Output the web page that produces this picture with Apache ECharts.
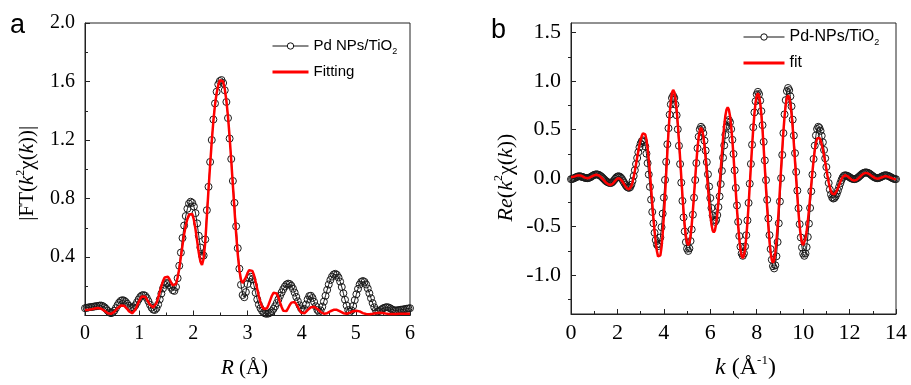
<!DOCTYPE html>
<html><head><meta charset="utf-8">
<script src="https://cdn.jsdelivr.net/npm/echarts@6/dist/echarts.min.js"></script>
<style>html,body{margin:0;padding:0;background:#fff}#c{width:911px;height:385px}</style>
</head><body><div id="c"></div>
<script>
// ---------- panel a : |FT(k^2 chi(k))| vs R ----------
const rGrid = [
0,0.03,0.06,0.09,0.12,0.15,0.18,0.21,0.24,0.27,
0.3,0.33,0.36,0.39,0.42,0.45,0.48,0.51,0.54,0.57,
0.6,0.63,0.66,0.69,0.72,0.75,0.78,0.81,0.84,0.87,
0.9,0.93,0.96,0.99,1.02,1.05,1.08,1.11,1.14,1.17,
1.2,1.23,1.26,1.29,1.32,1.35,1.38,1.41,1.44,1.47,
1.5,1.53,1.56,1.59,1.62,1.65,1.68,1.71,1.74,1.77,
1.8,1.83,1.86,1.89,1.92,1.95,1.98,2.01,2.04,2.07,
2.1,2.13,2.16,2.19,2.22,2.25,2.28,2.31,2.34,2.37,
2.4,2.43,2.46,2.49,2.52,2.55,2.58,2.61,2.64,2.67,
2.7,2.73,2.76,2.79,2.82,2.85,2.88,2.91,2.94,2.97,
3,3.03,3.06,3.09,3.12,3.15,3.18,3.21,3.24,3.27,
3.3,3.33,3.36,3.39,3.42,3.45,3.48,3.51,3.54,3.57,
3.6,3.63,3.66,3.69,3.72,3.75,3.78,3.81,3.84,3.87,
3.9,3.93,3.96,3.99,4.02,4.05,4.08,4.11,4.14,4.17,
4.2,4.23,4.26,4.29,4.32,4.35,4.38,4.41,4.44,4.47,
4.5,4.53,4.56,4.59,4.62,4.65,4.68,4.71,4.74,4.77,
4.8,4.83,4.86,4.89,4.92,4.95,4.98,5.01,5.04,5.07,
5.1,5.13,5.16,5.19,5.22,5.25,5.28,5.31,5.34,5.37,
5.4,5.43,5.46,5.49,5.52,5.55,5.58,5.61,5.64,5.67,
5.7,5.73,5.76,5.79,5.82,5.85,5.88,5.91,5.94,5.97,
6];
const ftMeasured = [
.050,.052,.055,.057,.058,.060,.062,.064,.066,.068,
.068,.064,.056,.045,.032,.021,.016,.020,.032,.050,
.070,.088,.100,.105,.102,.093,.080,.066,.055,.050,
.055,.070,.090,.110,.127,.137,.140,.135,.120,.098,
.074,.053,.040,.038,.050,.075,.110,.150,.185,.210,
.222,.220,.208,.190,.173,.168,.195,.255,.340,.430,
.530,.615,.680,.730,.765,.778,.770,.745,.700,.630,
.545,.465,.410,.410,.520,.720,.880,1.050,1.200,1.340,
1.450,1.530,1.580,1.603,1.610,1.590,1.540,1.460,1.350,1.210,
1.070,.920,.770,.610,.460,.320,.210,.140,.125,.160,
.215,.255,.265,.248,.205,.155,.110,.075,.050,.032,
.020,.013,.012,.014,.020,.030,.045,.063,.085,.110,
.135,.158,.180,.198,.212,.218,.215,.203,.183,.157,
.127,.097,.070,.048,.037,.045,.075,.110,.133,.135,
.120,.093,.063,.038,.026,.035,.060,.095,.135,.175,
.212,.243,.266,.280,.285,.278,.260,.232,.195,.152,
.108,.068,.037,.025,.035,.065,.105,.145,.182,.212,
.230,.236,.230,.212,.185,.152,.118,.085,.056,.036,
.027,.030,.038,.046,.052,.056,.057,.054,.048,.041,
.036,.034,.035,.037,.039,.040,.042,.044,.046,.048,
.050];
const ftFitting = [
.037,.038,.039,.040,.042,.045,.048,.050,.051,.050,
.046,.040,.032,.023,.015,.011,.011,.016,.025,.037,
.050,.061,.068,.070,.067,.057,.044,.030,.019,.015,
.022,.040,.065,.092,.115,.130,.134,.128,.112,.092,
.073,.060,.055,.062,.085,.120,.160,.200,.235,.260,
.270,.265,.248,.225,.207,.200,.215,.260,.320,.400,
.480,.555,.615,.660,.690,.700,.695,.655,.590,.510,
.430,.370,.345,.390,.500,.680,.860,1.030,1.190,1.330,
1.440,1.520,1.575,1.610,1.620,1.600,1.550,1.470,1.360,1.220,
1.060,.890,.720,.560,.420,.310,.245,.222,.232,.260,
.290,.310,.315,.305,.275,.230,.180,.130,.090,.060,
.045,.040,.050,.075,.105,.135,.155,.160,.150,.125,
.090,.058,.032,.020,.030,.050,.072,.088,.095,.092,
.078,.058,.037,.020,.012,.015,.025,.037,.048,.056,
.060,.060,.055,.045,.034,.024,.016,.012,.012,.016,
.022,.029,.035,.039,.040,.039,.034,.028,.021,.016,
.013,.012,.014,.019,.024,.029,.032,.033,.032,.028,
.022,.016,.012,.010,.009,.009,.010,.012,.014,.016,
.018,.018,.018,.017,.015,.013,.012,.011,.011,.011,
.011,.011,.012,.012,.012,.012,.012,.012,.012,.012,
.012];

// ---------- panel b : Re(k^2 chi(k)) vs k ----------
const kGrid = [
0,0.05,0.1,0.15,0.2,0.25,0.3,0.35,0.4,0.45,
0.5,0.55,0.6,0.65,0.7,0.75,0.8,0.85,0.9,0.95,
1,1.05,1.1,1.15,1.2,1.25,1.3,1.35,1.4,1.45,
1.5,1.55,1.6,1.65,1.7,1.75,1.8,1.85,1.9,1.95,
2,2.05,2.1,2.15,2.2,2.25,2.3,2.35,2.4,2.45,
2.5,2.55,2.6,2.65,2.7,2.75,2.8,2.85,2.9,2.95,
3,3.05,3.1,3.15,3.2,3.25,3.3,3.35,3.4,3.45,
3.5,3.55,3.6,3.65,3.7,3.75,3.8,3.85,3.9,3.95,
4,4.05,4.1,4.15,4.2,4.25,4.3,4.35,4.4,4.45,
4.5,4.55,4.6,4.65,4.7,4.75,4.8,4.85,4.9,4.95,
5,5.05,5.1,5.15,5.2,5.25,5.3,5.35,5.4,5.45,
5.5,5.55,5.6,5.65,5.7,5.75,5.8,5.85,5.9,5.95,
6,6.05,6.1,6.15,6.2,6.25,6.3,6.35,6.4,6.45,
6.5,6.55,6.6,6.65,6.7,6.75,6.8,6.85,6.9,6.95,
7,7.05,7.1,7.15,7.2,7.25,7.3,7.35,7.4,7.45,
7.5,7.55,7.6,7.65,7.7,7.75,7.8,7.85,7.9,7.95,
8,8.05,8.1,8.15,8.2,8.25,8.3,8.35,8.4,8.45,
8.5,8.55,8.6,8.65,8.7,8.75,8.8,8.85,8.9,8.95,
9,9.05,9.1,9.15,9.2,9.25,9.3,9.35,9.4,9.45,
9.5,9.55,9.6,9.65,9.7,9.75,9.8,9.85,9.9,9.95,
10,10.05,10.1,10.15,10.2,10.25,10.3,10.35,10.4,10.45,
10.5,10.55,10.6,10.65,10.7,10.75,10.8,10.85,10.9,10.95,
11,11.05,11.1,11.15,11.2,11.25,11.3,11.35,11.4,11.45,
11.5,11.55,11.6,11.65,11.7,11.75,11.8,11.85,11.9,11.95,
12,12.05,12.1,12.15,12.2,12.25,12.3,12.35,12.4,12.45,
12.5,12.55,12.6,12.65,12.7,12.75,12.8,12.85,12.9,12.95,
13,13.05,13.1,13.15,13.2,13.25,13.3,13.35,13.4,13.45,
13.5,13.55,13.6,13.65,13.7,13.75,13.8,13.85,13.9,13.95,
14];
const chiMeasured = [
-.01,-.008,-.004,.002,.008,.014,.018,.02,.019,.016,
.012,.008,.004,.001,0,.002,.006,.012,.02,.028,
.034,.038,.04,.038,.034,.027,.018,.007,-.005,-.017,
-.028,-.037,-.044,-.048,-.05,-.047,-.037,-.023,-.007,.007,
.017,.02,.016,.006,-.01,-.03,-.05,-.07,-.086,-.096,
-.10,-.092,-.067,-.029,.023,.082,.145,.208,.268,.319,
.357,.382,.39,.374,.328,.253,.155,.038,-.089,-.221,
-.348,-.465,-.563,-.638,-.684,-.70,-.677,-.611,-.505,-.365,
-.20,-.018,.168,.35,.515,.655,.761,.827,.85,.827,
.759,.649,.504,.334,.146,-.046,-.234,-.404,-.549,-.659,
-.727,-.75,-.724,-.648,-.529,-.376,-.201,-.019,.156,.309,
.428,.504,.53,.513,.464,.387,.285,.166,.04,-.086,
-.205,-.307,-.384,-.433,-.45,-.432,-.38,-.297,-.188,-.06,
.075,.211,.338,.447,.53,.582,.60,.576,.506,.396,
.25,.081,-.10,-.281,-.45,-.596,-.706,-.776,-.80,-.775,
-.703,-.588,-.435,-.255,-.057,.147,.345,.525,.678,.793,
.865,.89,.867,.80,.691,.547,.375,.183,-.02,-.223,
-.415,-.587,-.731,-.84,-.907,-.93,-.898,-.805,-.658,-.465,
-.24,0,.24,.465,.658,.805,.898,.93,.908,.844,
.741,.604,.44,.258,.065,-.128,-.31,-.474,-.611,-.714,
-.778,-.80,-.777,-.711,-.606,-.468,-.307,-.135,.037,.198,
.336,.441,.507,.53,.519,.488,.437,.37,.291,.205,
.115,.029,-.05,-.117,-.168,-.199,-.21,-.204,-.187,-.16,
-.127,-.09,-.053,-.02,.007,.024,.03,.028,.024,.018,
.01,.002,-.004,-.008,-.01,-.008,-.003,.004,.014,.025,
.036,.046,.053,.058,.06,.058,.054,.048,.039,.03,
.021,.012,.006,.001,0,.002,.006,.012,.018,.024,
.029,.03,.029,.025,.02,.014,.007,0,-.005,-.009,
-.01];
const chiFit = [
.01,.011,.014,.018,.022,.026,.029,.03,.029,.024,
.018,.012,.006,.001,0,.001,.005,.011,.018,.024,
.03,.034,.035,.033,.028,.02,.009,-.004,-.018,-.031,
-.044,-.055,-.063,-.068,-.07,-.067,-.057,-.043,-.027,-.013,
-.003,0,-.003,-.013,-.029,-.048,-.067,-.086,-.102,-.112,
-.115,-.107,-.082,-.042,.011,.074,.142,.213,.281,.344,
.397,.437,.462,.47,.451,.396,.307,.19,.052,-.10,
-.256,-.407,-.545,-.662,-.751,-.806,-.825,-.796,-.709,-.572,
-.391,-.181,.043,.266,.476,.657,.794,.881,.91,.887,
.819,.709,.564,.394,.206,.014,-.174,-.344,-.489,-.599,
-.667,-.69,-.666,-.594,-.481,-.336,-.171,.001,.166,.311,
.424,.496,.52,.498,.434,.334,.204,.057,-.097,-.244,
-.374,-.474,-.538,-.56,-.538,-.474,-.372,-.238,-.081,.085,
.251,.408,.542,.644,.708,.73,.707,.641,.535,.394,
.228,.046,-.141,-.323,-.489,-.63,-.736,-.802,-.825,-.80,
-.728,-.611,-.458,-.276,-.077,.127,.326,.508,.661,.778,
.85,.875,.85,.775,.656,.498,.312,.108,-.103,-.307,
-.493,-.651,-.77,-.845,-.87,-.845,-.771,-.653,-.497,-.313,
-.111,.096,.298,.482,.638,.756,.83,.855,.832,.767,
.661,.521,.356,.176,-.011,-.191,-.356,-.496,-.602,-.668,
-.69,-.674,-.626,-.55,-.449,-.33,-.20,-.065,.065,.184,
.285,.361,.409,.425,.416,.391,.35,.297,.233,.163,
.092,.022,-.042,-.095,-.136,-.161,-.17,-.165,-.151,-.129,
-.101,-.07,-.039,-.011,.011,.025,.03,.028,.022,.013,
.003,-.008,-.017,-.023,-.025,-.023,-.017,-.009,.003,.015,
.027,.039,.047,.053,.055,.054,.049,.043,.034,.025,
.016,.007,.001,-.004,-.005,-.004,0,.005,.010,.015,
.019,.02,.019,.016,.012,.008,.002,-.003,-.007,-.009,
-.01];

// tick positions for panel b y axis
const chiTickValues = [-1.0,-0.5,0,0.5,1.0,1.5];
const chiMinorTickValues = [-1.25,-0.75,-0.25,0.25,0.75,1.25];

const nameA1 = 'Pd NPs/TiO₂', nameA2 = 'Fitting';
const nameB1 = 'Pd-NPs/TiO₂', nameB2 = 'fit';

const zip = (xs, ys) => xs.map((x, i) => [x, ys[i]]);

const AX = '#222';
const SERIF = "'Liberation Serif','Times New Roman',serif";
const SANS = "'Liberation Sans',Arial,sans-serif";

function richName(size, padding) {
  return {
    fontFamily: SERIF, fontSize: size, color: '#000', padding: padding || 0,
    rich: {
      n: {fontFamily: SERIF, fontSize: size, color: '#000', lineHeight: size + 4},
      i: {fontFamily: SERIF, fontSize: size, fontStyle: 'italic', color: '#000', lineHeight: size + 4},
      sup: {fontFamily: SERIF, fontSize: Math.round(size * 0.55), color: '#000', verticalAlign: 'top', lineHeight: Math.round(size * 0.6)}
    }
  };
}
function valueAxis(extra) {
  return Object.assign({
    type: 'value',
    axisLine: {show: true, onZero: false, lineStyle: {color: AX, width: 1}},
    axisTick: {show: true, inside: true, length: 5, lineStyle: {color: AX, width: 1}},
    minorTick: {show: true, splitNumber: 2, length: 3, lineStyle: {color: AX, width: 1}},
    splitLine: {show: false},
    minorSplitLine: {show: false}
  }, extra);
}
const legendText = (size) => ({
  fontFamily: SANS, fontSize: size, color: '#000', lineHeight: 20,
  rich: {sub: {fontFamily: SANS, fontSize: 9, color: '#000', lineHeight: 9, verticalAlign: 'bottom'}}
});
const legendFmt = n => n.replace('₂', '{sub|2}');
const legendMeasured = name => ({name, itemStyle: {color: '#fff', borderColor: '#111', borderWidth: 1}, lineStyle: {color: '#111', width: 1}});
const legendFit = name => ({name, itemStyle: {opacity: 0}, lineStyle: {color: '#ff0000', width: 3}});

const measuredStyle = {
  type: 'line', symbol: 'circle', symbolSize: 7, showSymbol: true,
  itemStyle: {color: 'rgba(0,0,0,0)', borderColor: '#1a1a1a', borderWidth: 1},
  lineStyle: {color: '#1a1a1a', width: 1},
  emphasis: {disabled: true}, z: 2
};
const fitStyle = {
  type: 'line', symbol: 'none', showSymbol: false,
  itemStyle: {color: '#ff0000'},
  lineStyle: {color: '#ff0000', width: 2.5},
  emphasis: {disabled: true}, z: 3
};

const chart = echarts.init(document.getElementById('c'), null, {renderer: 'canvas'});
chart.setOption({
  animation: false,
  backgroundColor: '#fff',
  title: [
    {text: 'a', left: 10, top: 12, padding: 0, textStyle: {fontFamily: SANS, fontSize: 27, fontWeight: 'normal', color: '#000'}},
    {text: 'b', left: 491, top: 17, padding: 0, textStyle: {fontFamily: SANS, fontSize: 27, fontWeight: 'normal', color: '#000'}}
  ],
  grid: [
    {left: 85, top: 23, width: 325, height: 292.5, show: true, borderColor: AX, borderWidth: 1, backgroundColor: 'transparent', containLabel: false},
    {left: 571, top: 23, width: 325, height: 292, show: true, borderColor: AX, borderWidth: 1, backgroundColor: 'transparent', containLabel: false}
  ],
  legend: [
    {left: 271, top: 36, padding: 0, orient: 'vertical', itemWidth: 36, itemHeight: 8, itemGap: 6, selectedMode: false,
     data: [legendMeasured(nameA1), legendFit(nameA2)],
     textStyle: legendText(15), formatter: legendFmt},
    {left: 742, top: 27, padding: 0, orient: 'vertical', itemWidth: 41, itemHeight: 8, itemGap: 6, selectedMode: false,
     data: [legendMeasured(nameB1), legendFit(nameB2)],
     textStyle: legendText(16), formatter: legendFmt}
  ],
  xAxis: [
    valueAxis({gridIndex: 0, min: 0, max: 6, interval: 1,
      axisLabel: {fontFamily: SERIF, fontSize: 20, color: '#000', margin: 8},
      name: '{i|R}{n| (Å)}', nameLocation: 'middle', nameGap: 40, nameTextStyle: richName(21, [0, 6, 0, 0])}),
    valueAxis({gridIndex: 1, min: 0, max: 14, interval: 2,
      axisLabel: {fontFamily: SERIF, fontSize: 22, color: '#000', margin: 8},
      name: '{i|k}{n| (Å}{sup|-1}{n|)}', nameLocation: 'middle', nameGap: 40, nameTextStyle: richName(24, [0, 0, 0, 24])})
  ],
  yAxis: [
    valueAxis({gridIndex: 0, min: 0, max: 2, interval: 0.4,
      axisLabel: {fontFamily: SERIF, fontSize: 20, color: '#000', margin: 10, showMinLabel: false,
        formatter: v => v.toFixed(1)},
      name: '{n||FT(}{i|k}{sup|2}{n|χ(}{i|k}{n|))|}', nameLocation: 'middle', nameGap: 45, nameRotate: 90,
      nameTextStyle: richName(21, [0, 8, 0, 0])}),
    valueAxis({gridIndex: 1, min: -1.4, max: 1.6,
      axisTick: {show: true, inside: true, length: 5, customValues: chiTickValues, lineStyle: {color: AX, width: 1}},
      minorTick: {show: false},
      axisLabel: {fontFamily: SERIF, fontSize: 22, color: '#000', margin: 10, customValues: chiTickValues,
        formatter: v => v.toFixed(1)},
      name: '{i|Re}{n|(}{i|k}{sup|2}{n|χ(}{i|k}{n|))}', nameLocation: 'middle', nameGap: 52, nameRotate: 90,
      nameTextStyle: richName(22, [0, 18, 0, 0])}),
    valueAxis({gridIndex: 1, min: -1.4, max: 1.6,
      axisLine: {show: false},
      axisTick: {show: true, inside: true, length: 3, customValues: chiMinorTickValues, lineStyle: {color: AX, width: 1}},
      minorTick: {show: false},
      axisLabel: {show: false}})
  ],
  series: [
    Object.assign({name: nameA1, xAxisIndex: 0, yAxisIndex: 0, data: zip(rGrid, ftMeasured)}, measuredStyle),
    Object.assign({name: nameA2, xAxisIndex: 0, yAxisIndex: 0, data: zip(rGrid, ftFitting)}, fitStyle),
    Object.assign({name: nameB1, xAxisIndex: 1, yAxisIndex: 1, data: zip(kGrid, chiMeasured)}, measuredStyle),
    Object.assign({name: nameB2, xAxisIndex: 1, yAxisIndex: 1, data: zip(kGrid, chiFit)}, fitStyle)
  ]
});
</script>
</body></html>
